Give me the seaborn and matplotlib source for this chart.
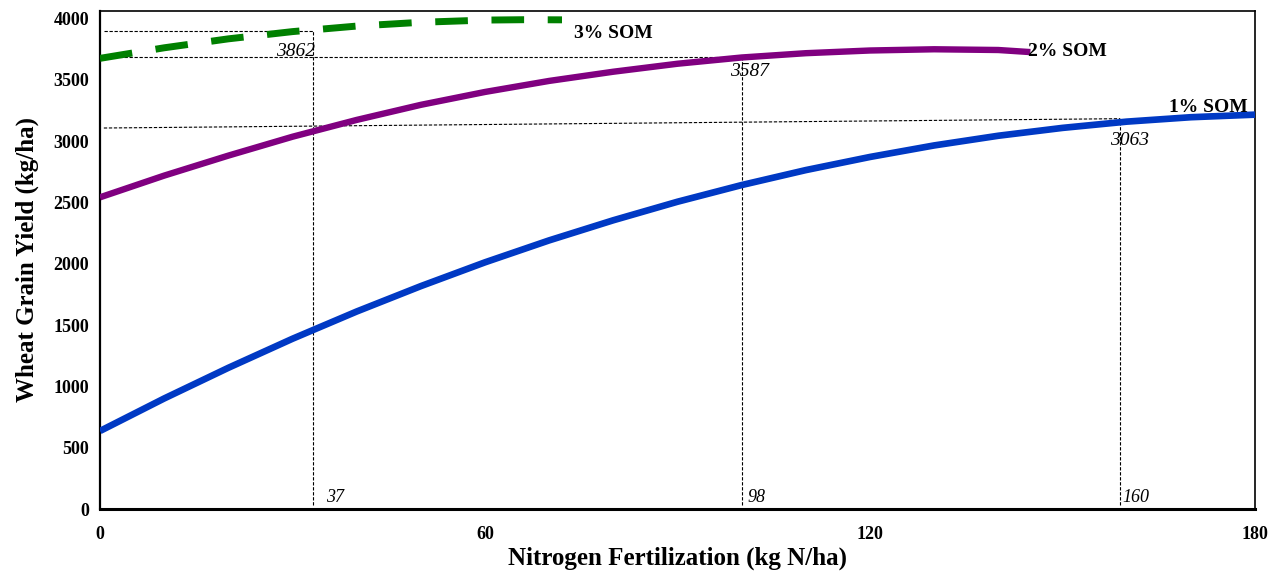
#!/usr/bin/env python3

import pandas as pd
import matplotlib
matplotlib.use("Agg")
import matplotlib.pyplot as plt
import seaborn as sns

# Yield response curves (kg N/ha -> kg/ha)
n_som1 = [0, 10, 20, 30, 40, 50, 60, 70, 80, 90, 100, 110, 120, 130, 140, 150, 160, 170, 180]
y_som1 = [636, 901, 1151, 1388, 1610, 1817, 2011, 2190, 2354, 2505, 2641, 2763, 2870, 2964, 3043, 3107, 3158, 3194, 3215]

n_som2 = [0, 10, 20, 30, 40, 50, 60, 70, 80, 90, 100, 110, 120, 130, 140, 145]
y_som2 = [2541, 2718, 2881, 3035, 3172, 3295, 3400, 3490, 3565, 3630, 3681, 3716, 3738, 3748, 3742, 3725]

n_som3 = [0, 10, 20, 30, 40, 50, 60, 66, 72]
y_som3 = [3674, 3760, 3833, 3892, 3937, 3968, 3986, 3989, 3988]

curve_names = ["1% SOM", "2% SOM", "3% SOM"]

# optimum N rate guides
opt_n = [33.2, 100.0, 159.0]
opt_top = [3897, 3683, 3182]
opt_left = [3897, 3683, 3106]
opt_n_labels = ["37", "98", "160"]
opt_yield_labels = ["3862", "3587", "3063"]

x_ticks = [0, 60, 120, 180]
y_ticks = [0, 500, 1000, 1500, 2000, 2500, 3000, 3500, 4000]

if __name__ == "__main__":

    sns.set_style("white")
    plt.rcParams["font.family"] = ["Liberation Serif", "DejaVu Serif"]
    plt.rcParams["text.color"] = "black"
    plt.rcParams["axes.labelcolor"] = "black"
    plt.rcParams["xtick.color"] = "black"
    plt.rcParams["ytick.color"] = "black"

    fig = plt.figure(figsize=(12.68, 5.72), dpi=100)
    ax = fig.add_axes([100 / 1268, 1 - 509 / 572, 1155 / 1268, 498 / 572])

    guide = dict(color="black", linewidth=0.8, linestyle=(0, (3, 1.5)), zorder=1)

    # guide lines drawn first, curves on top
    for xn, yt, yl in zip(opt_n, opt_top, opt_left):
        ax.plot([xn, xn], [30, yt], **guide)
        ax.plot([0.6, xn], [yl, yt], **guide)

    df1 = pd.DataFrame({"N": n_som1, "Yield": y_som1})
    df2 = pd.DataFrame({"N": n_som2, "Yield": y_som2})
    df3 = pd.DataFrame({"N": n_som3, "Yield": y_som3})

    sns.lineplot(data=df1, x="N", y="Yield", ax=ax, color="#0039c4",
                 linewidth=4.8, solid_capstyle="butt", zorder=3)
    sns.lineplot(data=df2, x="N", y="Yield", ax=ax, color="#800080",
                 linewidth=4.6, solid_capstyle="butt", zorder=3)
    sns.lineplot(data=df3, x="N", y="Yield", ax=ax, color="#008000",
                 linewidth=5.0, linestyle=(0, (4.7, 3.4)), dash_capstyle="butt", zorder=3)

    # curve labels
    ax.text(73.9, 3878, curve_names[2], ha="left", va="center", fontsize=14, fontweight="bold")
    ax.text(144.6, 3728, curve_names[1], ha="left", va="center", fontsize=14, fontweight="bold")
    ax.text(178.9, 3275, curve_names[0], ha="right", va="center", fontsize=14, fontweight="bold")

    # optimum yield labels (italic), offsets in points
    yl_offsets = [(-12.5, -15), (5.6, -10.4), (6.5, -16)]
    for xn, yt, lab, off in zip(opt_n, opt_top, opt_yield_labels, yl_offsets):
        ax.annotate(lab, (xn, yt), xytext=off, textcoords="offset points",
                    ha="center", va="center", fontsize=14, fontstyle="italic")

    nl_offsets = [9, 4, 1.5]
    for xn, lab, off in zip(opt_n, opt_n_labels, nl_offsets):
        ax.annotate(lab, (xn, 0), xytext=(off, 2), textcoords="offset points",
                    ha="left", va="bottom", fontsize=13, fontstyle="italic")

    ax.set_xlim(0, 180)
    ax.set_ylim(0, 4060)
    ax.set_xticks(x_ticks)
    ax.set_yticks(y_ticks)
    ax.tick_params(axis="both", length=0, labelsize=13)
    ax.tick_params(axis="x", pad=12)
    ax.tick_params(axis="y", pad=8)
    for lab in ax.get_xticklabels() + ax.get_yticklabels():
        lab.set_fontweight("bold")

    ax.set_xlabel("Nitrogen Fertilization (kg N/ha)", fontsize=18, fontweight="bold", labelpad=3)
    ax.set_ylabel("Wheat Grain Yield (kg/ha)", fontsize=18, fontweight="bold", labelpad=10)

    for side in ["top", "right"]:
        ax.spines[side].set_linewidth(1.2)
        ax.spines[side].set_color("black")
    ax.spines["left"].set_linewidth(1.6)
    ax.spines["left"].set_color("black")
    ax.spines["bottom"].set_linewidth(2.2)
    ax.spines["bottom"].set_color("black")

    plt.savefig("out.png", dpi=100)
    plt.close()
